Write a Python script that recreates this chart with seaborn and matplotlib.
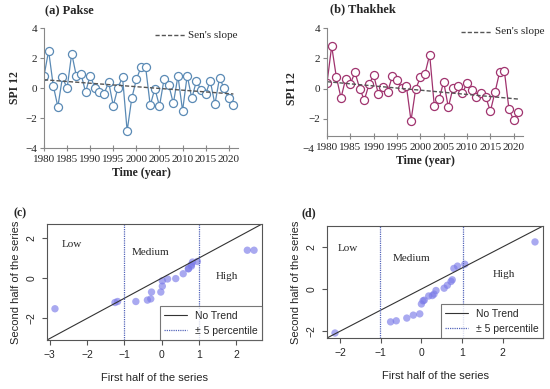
import numpy as np
import pandas as pd
import seaborn as sns
import matplotlib.pyplot as plt
from matplotlib.lines import Line2D

years = list(range(1980, 2022))
spi_pakse = [0.80, 2.48, 0.16, -1.25, 0.72, -0.02, 2.30, 0.80, 0.96, -0.27,
             0.83, 0.02, -0.29, -0.38, 0.38, -1.18, 0.02, 0.72, -2.86, -0.69,
             0.58, 1.39, 1.39, -1.16, -0.04, -1.21, 0.60, 0.22, -1.03, 0.80,
             -1.52, 0.83, -0.69, 0.47, -0.13, -0.40, 0.47, -1.09, 0.67, -0.02,
             -0.69, -1.16]
spi_thakhek = [0.36, 2.80, 0.76, -0.62, 0.64, 0.31, 1.07, 0.00, -0.76, 0.27,
               0.89, -0.36, 0.07, -0.20, 0.80, 0.56, 0.04, 0.18, -2.13, -0.04,
               0.73, 0.98, 2.24, -1.18, -0.71, 0.44, -1.24, 0.04, 0.18, -0.33,
               0.36, -0.07, -0.56, -0.31, -0.53, -1.51, -0.24, 1.09, 1.18, -1.38,
               -2.09, -1.56]
sen_years = [1980, 2021]
sen_pakse = [0.55, -0.40]
sen_thakhek = [0.45, -0.70]

sns.set_style("white")
plt.rcParams['font.family'] = ['Liberation Serif', 'DejaVu Serif']

fig = plt.figure(figsize=(5.5, 3.89), dpi=100)
W, H = 550.0, 389.0


def box(x0, y0, x1, y1):
    return [x0 / W, 1 - y1 / H, (x1 - x0) / W, (y1 - y0) / H]


def spi_panel(ax, vals, sen, color, title, tx, ty, leg_xy, spine_at=None):
    df = pd.DataFrame({"year": years, "spi": vals})
    sns.lineplot(data=df, x="year", y="spi", ax=ax, color=color, lw=0.9,
                 marker="o", markersize=5.8, markerfacecolor="white",
                 markeredgecolor=color, markeredgewidth=0.9)
    sns.lineplot(x=sen_years, y=sen, ax=ax, color="#555555", lw=1.0,
                 linestyle=(0, (3, 1.5)))
    ax.set_xlim(1980, 2022)
    ax.set_ylim(-4, 4)
    ax.set_xticks(range(1980, 2021, 5))
    ax.set_yticks([-4, -2, 0, 2, 4])
    for s in ["top", "right"]:
        ax.spines[s].set_visible(False)
    for s in ["left", "bottom"]:
        ax.spines[s].set_color("#888888")
        ax.spines[s].set_linewidth(0.8)
    ax.tick_params(axis="x", direction="inout", length=4, color="#888888",
                   labelsize=8, pad=3, bottom=True)
    ax.tick_params(axis="y", direction="out", length=3, color="#888888",
                   labelsize=8, pad=2, left=True)
    if spine_at is not None:
        ax.spines["bottom"].set_position(("data", spine_at))
        ax.spines["left"].set_bounds(spine_at, 4)
        ax.yaxis.get_major_ticks()[0].tick1line.set_visible(False)
        ax.yaxis.get_major_ticks()[0].set_pad(6)
    ax.set_xlabel("Time (year)", fontsize=8.5, fontweight="bold", labelpad=2)
    ax.set_ylabel("SPI 12", fontsize=8.5, fontweight="bold", labelpad=3)
    fig.text(tx / W, 1 - ty / H, title, fontsize=9, fontweight="bold",
             va="center", ha="left")
    lx0, lx1, ly = leg_xy
    fig.add_artist(Line2D([lx0 / W, lx1 / W], [1 - ly / H, 1 - ly / H],
                          color="#555555", lw=1.0, linestyle=(0, (3, 1.5))))
    fig.text((lx1 + 3) / W, 1 - ly / H, "Sen's slope", fontsize=8,
             va="center", ha="left")


ax_a = fig.add_axes(box(44, 28, 238, 148))
spi_panel(ax_a, spi_pakse, sen_pakse, "#5a8ab5", "(a) Pakse", 45, 10,
          (155, 185, 35))

ax_b = fig.add_axes(box(327, 28, 523, 149))
spi_panel(ax_b, spi_thakhek, sen_thakhek, "#a0336e", "(b) Thakhek", 330, 9,
          (461, 492, 32), spine_at=-3.15)


def ita_panel(ax, vals, label, lx, ly, texts, vlines):
    half = len(vals) // 2
    first = np.sort(vals[:half])
    second = np.sort(vals[half:])
    lo = min(first.min(), second.min())
    hi = max(first.max(), second.max())
    pad = 0.04 * (hi - lo)
    lims = (lo - pad, hi + pad)
    sns.scatterplot(x=first, y=second, ax=ax, color="#7b7be8", alpha=0.65,
                    s=28, edgecolor="none")
    ax.plot(lims, lims, color="#333333", lw=0.8)
    for v in vlines:
        ax.axvline(v, color="#5566bb", lw=0.9, linestyle=(0, (1, 0.8)))
    ax.set_xlim(lims)
    ax.set_ylim(lims)
    for s in ax.spines.values():
        s.set_visible(True)
        s.set_color("#555555")
        s.set_linewidth(0.8)
    ax.tick_params(direction="out", length=3.5, color="#555555",
                   labelsize=7.5, pad=4, bottom=True, left=True)
    for t in ax.get_xticklabels() + ax.get_yticklabels():
        t.set_family(["Liberation Sans", "DejaVu Sans"])
    plt.setp(ax.get_yticklabels(), rotation=90, va="center")
    ax.set_xlabel("First half of the series", fontsize=8,
                  family=["Liberation Sans", "DejaVu Sans"], labelpad=9)
    ax.set_ylabel("Second half of the series", fontsize=8,
                  family=["Liberation Sans", "DejaVu Sans"], labelpad=4)
    for txt, x, y in texts:
        ax.text(x, y, txt, fontsize=8, ha="center", va="center")
    handles = [Line2D([], [], color="#333333", lw=0.8),
               Line2D([], [], color="#5566bb", lw=0.9, linestyle=(0, (1, 0.8)))]
    leg = ax.legend(handles, ["No Trend", "\u00b1 5 percentile"],
                    loc="lower right", frameon=True,
                    fancybox=False, borderaxespad=0, handlelength=2.2,
                    prop={"family": ["Liberation Sans", "DejaVu Sans"],
                          "size": 7.5})
    leg.get_frame().set_edgecolor("#555555")
    leg.get_frame().set_linewidth(0.8)
    fig.text(lx / W, 1 - ly / H, label, fontsize=8.5, fontweight="bold",
             va="center", ha="left")


ax_c = fig.add_axes(box(47, 224, 262, 340))
ita_panel(ax_c, np.array(spi_pakse), "(c)", 13, 213,
          [("Low", -2.4, 1.66), ("Medium", -0.3, 1.26), ("High", 1.76, 0.1)],
          [-1.0, 1.0])

ax_d = fig.add_axes(box(327, 226, 543, 338))
ita_panel(ax_d, np.array(spi_thakhek), "(d)", 301, 213,
          [("Low", -1.82, 1.92), ("Medium", -0.25, 1.45), ("High", 2.04, 0.69)],
          [-1.03, 1.03])

fig.savefig("out.png", dpi=100)
